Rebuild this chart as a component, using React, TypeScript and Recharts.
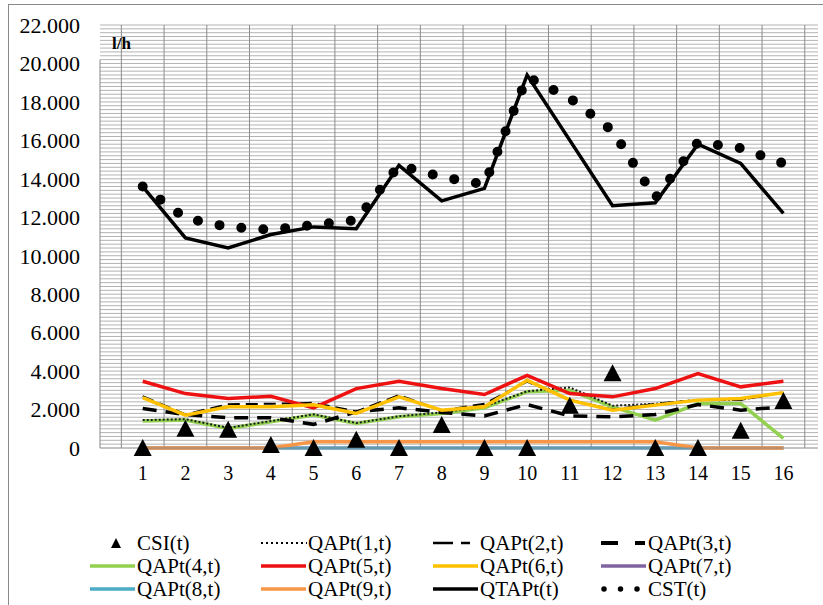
import { LineChart, Line, XAxis, YAxis, ReferenceArea, ReferenceLine } from "recharts";

const periods = [1, 2, 3, 4, 5, 6, 7, 8, 9, 10, 11, 12, 13, 14, 15, 16];

const csi = [0, 1000, 950, 150, 0, 430, 0, 1190, 0, 0, 2200, 3890, 0, 0, 900, 2440];
const qap1 = [1450, 1500, 1050, 1400, 1750, 1300, 1650, 1850, 2150, 2950, 3150, 2200, 2300, 2500, 2500, 2900];
const qap2 = [2700, 1750, 2280, 2300, 2350, 1900, 2750, 1950, 2300, 3450, 2500, 2000, 2300, 2500, 2500, 2900];
const qap3 = [2050, 1740, 1570, 1570, 1230, 1880, 2090, 1850, 1670, 2260, 1670, 1620, 1740, 2260, 1970, 2140];
const qap4 = [1400, 1450, 1020, 1360, 1710, 1280, 1620, 1800, 2090, 2920, 3000, 2140, 1450, 2310, 2310, 500];
const qap5 = [3470, 2830, 2570, 2690, 2090, 3090, 3470, 3090, 2780, 3780, 2830, 2660, 3090, 3870, 3180, 3470];
const qap6 = [2620, 1710, 2140, 2140, 2250, 1800, 2660, 1970, 2140, 3520, 2490, 1970, 2230, 2490, 2570, 2880];
const qap7 = [0, 0, 0, 0, 0, 0, 0, 0, 0, 0, 0, 0, 0, 0, 0, 0];
const qap8 = [0, 0, 0, 0, 0, 0, 0, 0, 0, 0, 0, 0, 0, 0, 0, 0];
const qap9 = [0, 0, 0, 0, 330, 330, 330, 330, 330, 330, 330, 330, 330, 0, 0, 0];
const qtap = [13600, 10930, 10400, 11100, 11500, 11400, 14700, 12850, 13500, 19400, 16000, 12600, 12750, 15800, 14800, 12200];
const cst = [13600, 11950, 11500, 11350, 11600, 11850, 14700, 14100, 13700, 19300, 18200, 16500, 13000, 15900, 15600, 14800];

const yTicks = [0, 2000, 4000, 6000, 8000, 10000, 12000, 14000, 16000, 18000, 20000, 22000];
// minor horizontal grid every 200 l/h, vertical grid between periods
const minorY = Array.from({ length: 111 }, (_, i) => i * 200);
const vGrid = [...periods.map((p) => p - 0.5), 16.5];

const FONT = '"Liberation Serif", "Times New Roman", serif';

const data = periods.map((t, i) => ({
  t,
  csi: csi[i],
  qap1: qap1[i],
  qap2: qap2[i],
  qap3: qap3[i],
  qap4: qap4[i],
  qap5: qap5[i],
  qap6: qap6[i],
  qap7: qap7[i],
  qap8: qap8[i],
  qap9: qap9[i],
  qtap: qtap[i],
  cst: cst[i],
}));

interface SeriesDef {
  key: string;
  name: string;
  color: string;
  width: number;
  dash?: string;
  kind: "line" | "dots" | "tri";
}

const series: Record<string, SeriesDef> = {
  csi: { key: "csi", name: "CSI(t)", color: "#000", width: 0, kind: "tri" },
  qap1: { key: "qap1", name: "QAPt(1,t)", color: "#1a1a1a", width: 2, dash: "2 2", kind: "line" },
  qap2: { key: "qap2", name: "QAPt(2,t)", color: "#000", width: 2, dash: "12 6", kind: "line" },
  qap3: { key: "qap3", name: "QAPt(3,t)", color: "#000", width: 3.5, dash: "14 9", kind: "line" },
  qap4: { key: "qap4", name: "QAPt(4,t)", color: "#92d050", width: 3.5, kind: "line" },
  qap5: { key: "qap5", name: "QAPt(5,t)", color: "#ee1111", width: 3.5, kind: "line" },
  qap6: { key: "qap6", name: "QAPt(6,t)", color: "#ffc000", width: 3.5, kind: "line" },
  qap7: { key: "qap7", name: "QAPt(7,t)", color: "#8064a2", width: 3, kind: "line" },
  qap8: { key: "qap8", name: "QAPt(8,t)", color: "#4bacc6", width: 3, kind: "line" },
  qap9: { key: "qap9", name: "QAPt(9,t)", color: "#f79646", width: 3.5, kind: "line" },
  qtap: { key: "qtap", name: "QTAPt(t)", color: "#000", width: 3.5, kind: "line" },
  cst: { key: "cst", name: "CST(t)", color: "#000", width: 10, dash: "0 22", kind: "dots" },
};

const drawOrder = ["qap4", "qap1", "qap2", "qap3", "qap5", "qap6", "qap7", "qap8", "qap9", "qtap", "cst"];
const legendRows = [
  ["csi", "qap1", "qap2", "qap3"],
  ["qap4", "qap5", "qap6", "qap7"],
  ["qap8", "qap9", "qtap", "cst"],
];
const legendTextX = [137, 308, 480, 648];
const legendRowY = [543, 566, 589];

function Triangle(props: any) {
  const { cx, cy, index } = props;
  if (cx == null || cy == null) return null;
  return (
    <polygon
      key={`tri-${index}`}
      points={`${cx},${cy - 9} ${cx - 9},${cy + 8} ${cx + 9},${cy + 8}`}
      fill="#000"
    />
  );
}

function LegendIcon({ s }: { s: SeriesDef }) {
  if (s.kind === "tri") {
    return (
      <svg width={46} height={12}>
        <polygon points="26,1 21,11 31,11" fill="#000" />
      </svg>
    );
  }
  if (s.kind === "dots") {
    return (
      <svg width={46} height={12}>
        <line x1={3} y1={6} x2={44} y2={6} stroke="#000" strokeWidth={5.5} strokeDasharray="0 16.5" strokeLinecap="round" />
      </svg>
    );
  }
  if (s.key === "qap1") {
    return (
      <svg width={46} height={12}>
        <line x1={0} y1={6} x2={46} y2={6} stroke="#000" strokeWidth={2} strokeDasharray="2 3" />
      </svg>
    );
  }
  if (s.key === "qap2") {
    return (
      <svg width={46} height={12}>
        <line x1={0} y1={6} x2={20} y2={6} stroke="#000" strokeWidth={2.5} />
        <line x1={28} y1={6} x2={37} y2={6} stroke="#000" strokeWidth={2.5} />
      </svg>
    );
  }
  if (s.key === "qap3") {
    return (
      <svg width={46} height={12}>
        <line x1={0} y1={6} x2={17} y2={6} stroke="#000" strokeWidth={4} />
        <line x1={34} y1={6} x2={44} y2={6} stroke="#000" strokeWidth={4} />
      </svg>
    );
  }
  return (
    <svg width={46} height={12}>
      <line x1={0} y1={6} x2={45} y2={6} stroke={s.color} strokeWidth={3.5} />
    </svg>
  );
}

function ChartLegend() {
  return (
    <>
      {legendRows.map((row, r) =>
        row.map((k, c) => (
          <div
            key={k}
            style={{
              position: "absolute",
              left: legendTextX[c] - 47,
              top: legendRowY[r] - 10,
              height: 20,
              display: "flex",
              alignItems: "center",
              fontFamily: FONT,
              fontSize: 21,
              color: "#000",
              whiteSpace: "nowrap",
            }}
          >
            <LegendIcon s={series[k]} />
            <span style={{ marginLeft: 1, lineHeight: "20px" }}>{series[k].name}</span>
          </div>
        ))
      )}
    </>
  );
}

export default function App() {
  return (
    <div style={{ position: "absolute", left: 0, top: 0, width: 823, height: 605, background: "#fff", overflow: "hidden" }}>
      <div style={{ position: "absolute", left: 8, top: 4, width: 830, height: 620, borderTop: "1px solid #8a8a8a", borderLeft: "1px solid #8a8a8a" }} />
      <LineChart
        width={823}
        height={605}
        data={data}
        margin={{ top: 25, right: 5, left: 0, bottom: 117 }}
        style={{ fontFamily: FONT }}
      >
        <XAxis
          type="number"
          dataKey="t"
          domain={[0, 16.81]}
          ticks={periods}
          allowDataOverflow
          axisLine={{ stroke: "#888" }}
          tickLine={false}
          tickMargin={12}
          height={40}
          tick={{ fill: "#000", fontSize: 20, fontFamily: FONT }}
        />
        <YAxis
          type="number"
          domain={[0, 22000]}
          ticks={yTicks}
          width={100}
          axisLine={false}
          tickLine={false}
          tickMargin={14}
          tick={{ fill: "#000", fontSize: 22, fontFamily: FONT }}
          tickFormatter={(v: number) => (v === 0 ? "0" : (v / 1000).toFixed(3))}
        />
        {minorY.slice(1).map((v) => (
          <ReferenceLine key={`hg-${v}`} y={v} stroke="#b3b3b3" strokeWidth={1} />
        ))}
        {vGrid.map((v) => (
          <ReferenceLine key={`vg-${v}`} x={v} stroke="#8c8c8c" strokeWidth={1} />
        ))}
        <ReferenceArea
          x1={0}
          x2={1.29}
          y1={20200}
          y2={22000}
          fill="#fff"
          fillOpacity={1}
          stroke="none"
          ifOverflow="visible"
        />
        <ReferenceLine segment={[{ x: 0, y: 0 }, { x: 0, y: 20200 }]} stroke="#888" ifOverflow="visible" />
        {drawOrder.map((k) => {
          const s = series[k];
          return (
            <Line
              key={k}
              type="linear"
              dataKey={k}
              name={s.name}
              stroke={s.color}
              strokeWidth={s.width}
              strokeDasharray={s.dash}
              strokeLinecap={s.kind === "dots" ? "round" : "butt"}
              dot={false}
              activeDot={false}
              isAnimationActive={false}
            />
          );
        })}
        <Line
          type="linear"
          dataKey="csi"
          name="CSI(t)"
          stroke="none"
          dot={Triangle}
          activeDot={false}
          isAnimationActive={false}
        />
      </LineChart>
      <div
        style={{
          position: "absolute",
          left: 112,
          top: 35,
          fontFamily: FONT,
          fontSize: 17,
          fontWeight: "bold",
          lineHeight: "18px",
          color: "#000",
        }}
      >
        l/h
      </div>
      <ChartLegend />
    </div>
  );
}
